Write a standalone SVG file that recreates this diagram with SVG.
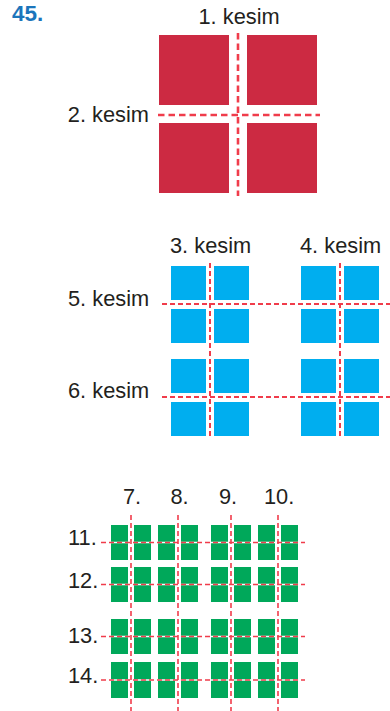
<svg xmlns="http://www.w3.org/2000/svg" width="390" height="711" viewBox="0 0 390 711">
<style>
.t{font-family:"Liberation Sans",Arial,sans-serif;font-size:21.8px;fill:#231f20}
.num{font-family:"Liberation Sans",Arial,sans-serif;font-size:22.5px;font-weight:bold;fill:#1b75bb}
.red{fill:#cc2a42}
.cutL{stroke:#f03c4b;stroke-width:2.6;stroke-dasharray:6.5 4;fill:none}
.cutM{stroke:#f03c4b;stroke-width:2;stroke-dasharray:5 3;fill:none}
.cutS{stroke:#f03c4b;stroke-width:1.6;stroke-dasharray:5 3;fill:none}
.gapW{stroke:#ffffff;stroke-width:1.6;fill:none}
</style>
<rect width="390" height="711" fill="#ffffff"/>
<g id="title"><text class="num" x="12" y="21">45.</text></g>

<g id="step1">
<rect class="red" x="159" y="35" width="70" height="70"/>
<rect class="red" x="247" y="35" width="70" height="70"/>
<rect class="red" x="159" y="123" width="70" height="70"/>
<rect class="red" x="247" y="123" width="70" height="70"/>
<text class="t" x="198.5" y="24">1. kesim</text>
<text class="t" x="149" y="121.5" text-anchor="end">2. kesim</text>
</g>

<g id="step2">
<g fill="#00aeef">
<rect x="171" y="266" width="35" height="34"/><rect x="214" y="266" width="35" height="34"/>
<rect x="301" y="266" width="35" height="34"/><rect x="344" y="266" width="35" height="34"/>
<rect x="171" y="309" width="35" height="34"/><rect x="214" y="309" width="35" height="34"/>
<rect x="301" y="309" width="35" height="34"/><rect x="344" y="309" width="35" height="34"/>
<rect x="171" y="359" width="35" height="34"/><rect x="214" y="359" width="35" height="34"/>
<rect x="301" y="359" width="35" height="34"/><rect x="344" y="359" width="35" height="34"/>
<rect x="171" y="402" width="35" height="34"/><rect x="214" y="402" width="35" height="34"/>
<rect x="301" y="402" width="35" height="34"/><rect x="344" y="402" width="35" height="34"/>
</g>
<text class="t" x="170" y="253">3. kesim</text>
<text class="t" x="300" y="253">4. kesim</text>
<text class="t" x="68" y="306">5. kesim</text>
<text class="t" x="68" y="398">6. kesim</text>
</g>

<g id="step3">
<g fill="#00a85a">
<rect x="111" y="525" width="17" height="35"/><rect x="134" y="525" width="17" height="35"/><rect x="158" y="525" width="17" height="35"/><rect x="181" y="525" width="17" height="35"/>
<rect x="211" y="525" width="17" height="35"/><rect x="234" y="525" width="17" height="35"/><rect x="258" y="525" width="17" height="35"/><rect x="281" y="525" width="17" height="35"/>
<rect x="111" y="567" width="17" height="35"/><rect x="134" y="567" width="17" height="35"/><rect x="158" y="567" width="17" height="35"/><rect x="181" y="567" width="17" height="35"/>
<rect x="211" y="567" width="17" height="35"/><rect x="234" y="567" width="17" height="35"/><rect x="258" y="567" width="17" height="35"/><rect x="281" y="567" width="17" height="35"/>
<rect x="111" y="619" width="17" height="35"/><rect x="134" y="619" width="17" height="35"/><rect x="158" y="619" width="17" height="35"/><rect x="181" y="619" width="17" height="35"/>
<rect x="211" y="619" width="17" height="35"/><rect x="234" y="619" width="17" height="35"/><rect x="258" y="619" width="17" height="35"/><rect x="281" y="619" width="17" height="35"/>
<rect x="111" y="662" width="17" height="36"/><rect x="134" y="662" width="17" height="36"/><rect x="158" y="662" width="17" height="36"/><rect x="181" y="662" width="17" height="36"/>
<rect x="211" y="662" width="17" height="36"/><rect x="234" y="662" width="17" height="36"/><rect x="258" y="662" width="17" height="36"/><rect x="281" y="662" width="17" height="36"/>
</g>
<text class="t" x="123" y="503.5">7.</text>
<text class="t" x="170.5" y="503.5">8.</text>
<text class="t" x="219" y="503.5">9.</text>
<text class="t" x="264" y="503.5">10.</text>
<text class="t" x="68" y="545">11.</text>
<text class="t" x="68" y="588">12.</text>
<text class="t" x="68" y="643">13.</text>
<text class="t" x="68" y="683">14.</text>
</g>

<g id="connectors">
<line class="cutL" x1="238" y1="33" x2="238" y2="196"/>
<line class="cutL" x1="158" y1="115" x2="320" y2="115"/>
<line class="cutM" x1="210" y1="263" x2="210" y2="438"/>
<line class="cutM" x1="340" y1="263" x2="340" y2="438"/>
<line class="cutM" x1="162" y1="304" x2="390" y2="304"/>
<line class="cutM" x1="162" y1="397" x2="390" y2="397"/>
<g class="gapW">
<line x1="111" y1="542.5" x2="298" y2="542.5"/>
<line x1="111" y1="584.5" x2="298" y2="584.5"/>
<line x1="111" y1="636.5" x2="298" y2="636.5"/>
<line x1="111" y1="680" x2="298" y2="680"/>
</g>
<line class="cutS" x1="131" y1="515" x2="131" y2="711"/>
<line class="cutS" x1="178" y1="515" x2="178" y2="711"/>
<line class="cutS" x1="231" y1="515" x2="231" y2="711"/>
<line class="cutS" x1="278" y1="515" x2="278" y2="711"/>
<line class="cutS" x1="101" y1="542.5" x2="305" y2="542.5"/>
<line class="cutS" x1="101" y1="584.5" x2="305" y2="584.5"/>
<line class="cutS" x1="101" y1="636.5" x2="305" y2="636.5"/>
<line class="cutS" x1="101" y1="680" x2="305" y2="680"/>
</g>
</svg>
